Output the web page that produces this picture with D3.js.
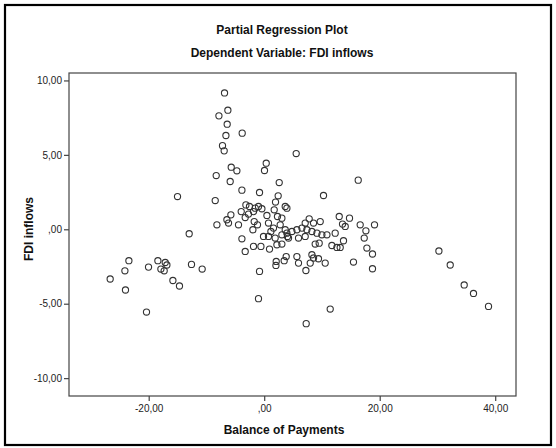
<!DOCTYPE html>
<html>
<head>
<meta charset="utf-8">
<script src="https://cdn.jsdelivr.net/npm/d3@7"></script>
<style>
  html, body { margin: 0; padding: 0; background: #fff; }
  svg { display: block; }
  text { font-family: "Liberation Sans", Arial, sans-serif; }
</style>
</head>
<body>
<script>
// Partial regression plot: residual Balance of Payments vs residual FDI inflows
const balanceOfPayments = [
  -26.67, -24.12, -23.43, -24.02, -20.38, -20.03, -18.41, -17.14, -16.85, -17.89,
  -17.32, -15.81, -14.67, -12.59, -10.74, -15.01, -12.99, -8.48, -8.19,
  -6.87, -6.29, -7.84, -6.41, -6.63, -3.81, -7.22, -6.93, 5.54, -5.71,
  -4.73, -8.31, 0.35, 0.05, -5.89, 2.60, -3.86, -0.81, 2.42, 16.28,
  10.27, 1.96, 3.64,
  -5.77, -6.46, -6.18, -4.45, -3.98, -3.17, -2.55, -3.29, -2.72, -1.85,
  -1.56, -0.99, -0.40, -1.16, -1.96, -1.73, 0.47, 0.74, 1.73, 2.30,
  3.06, 2.77, 1.61, 1.16, -0.12, 0.74, 1.90, 3.06, 4.03, 3.64,
  -3.86, -1.85, -0.57, 0.92, 2.20, 3.06, -3.29, 3.81, 3.46, 2.08,
  3.93, 12.99, 14.77, 13.56, 14.03, 16.62, 17.61, 19.10, 17.32,
  9.70, 8.54, 7.79, 7.10, 6.53, 5.66, 4.80, 3.93, 7.39, 8.26,
  9.13, 9.99, 10.86, 12.29, 7.10, 5.94, 4.21, 8.83, 9.52, 11.72,
  12.59, 13.16, 13.73, 17.78, 18.75, 5.66, 8.26, 9.40, 8.54,
  5.94, 7.97, 10.56, 15.46,
  -0.81, 2.03, 7.22, 18.75, -0.99, 11.43, 7.27,
  30.25, 32.21, 34.63, 36.24, 38.84
];
const fdiInflows = [
  -3.34, -2.79, -2.11, -4.08, -5.56, -2.54, -2.11, -2.23, -2.40, -2.67,
  -2.79, -3.44, -3.81, -2.36, -2.67, 2.20, -0.30, 1.93, 0.30,
  9.16, 8.00, 7.62, 7.06, 6.30, 6.46, 5.62, 5.27, 5.09, 4.17,
  3.93, 3.61, 4.44, 3.95, 3.21, 3.14, 2.63, 2.47, 2.25, 3.30,
  2.27, 1.83, 1.53,
  0.97, 0.64, 0.42, 0.30, 1.19, 1.64, 1.53, 0.79, 1.02, 1.19,
  1.42, 1.53, 1.38, 0.30, -0.03, 0.52, 0.93, 0.42, 1.31, 0.86,
  0.75, 0.30, 0.08, -0.15, -0.48, -0.48, -0.59, -0.37, -0.48, -0.03,
  -0.64, -1.15, -1.15, -1.33, -1.04, -0.99, -1.49, -1.83, -2.11, -2.16,
  1.42, 0.86, 0.75, 0.35, 0.19, 0.30, -0.10, 0.30, -0.59,
  0.52, 0.42, 0.70, 0.42, 0.08, -0.03, -0.15, -0.26, -0.03, -0.15,
  -0.26, -0.37, -0.37, -0.26, -0.48, -0.59, -0.59, -0.99, -0.93, -1.09,
  -1.22, -1.22, -0.77, -1.26, -1.66, -1.83, -1.71, -1.98, -1.93,
  -2.27, -2.27, -2.27, -2.20,
  -2.83, -2.43, -2.77, -2.65, -4.66, -5.36, -6.34,
  -1.46, -2.40, -3.74, -4.31, -5.18
];

const xTicks = [-20, 0, 20, 40];
const xTickLabels = ["-20,00", ",00", "20,00", "40,00"];
const yTicks = [10, 5, 0, -5, -10];
const yTickLabels = ["10,00", "5,00", ",00", "-5,00", "-10,00"];

const chartTitle = "Partial Regression Plot";
const chartSubtitle = "Dependent Variable: FDI inflows";
const xTitle = "Balance of Payments";
const yTitle = "FDI inflows";

const W = 556, H = 448;
const plot = { left: 69, right: 516, top: 73, bottom: 396 };

const svg = d3.select("body").append("svg")
  .attr("width", W).attr("height", H);

// outer border
svg.append("rect")
  .attr("x", 5).attr("y", 5).attr("width", 546).attr("height", 440)
  .attr("fill", "#fff").attr("stroke", "#000").attr("stroke-width", 2.2);

const x = d3.scaleLinear().domain([-33.8, 43.6]).range([plot.left, plot.right]);
const y = d3.scaleLinear().domain([-11.2, 10.5]).range([plot.bottom, plot.top]);

// titles
svg.append("text").attr("x", 282).attr("y", 34)
  .attr("text-anchor", "middle").attr("font-size", 12).attr("font-weight", "bold")
  .attr("fill", "#111").text(chartTitle);
svg.append("text").attr("x", 282).attr("y", 57)
  .attr("text-anchor", "middle").attr("font-size", 12).attr("font-weight", "bold")
  .attr("fill", "#111").text(chartSubtitle);

// axes
const xAxis = svg.append("g")
  .attr("transform", `translate(0,${plot.bottom})`)
  .call(d3.axisBottom(x).tickValues(xTicks)
    .tickFormat((d, i) => xTickLabels[i]).tickSize(5).tickSizeOuter(0).tickPadding(4));
const yAxis = svg.append("g")
  .attr("transform", `translate(${plot.left},0)`)
  .call(d3.axisLeft(y).tickValues(yTicks)
    .tickFormat((d, i) => yTickLabels[i]).tickSize(5).tickSizeOuter(0).tickPadding(2));

[xAxis, yAxis].forEach(g => {
  g.select(".domain").remove();
  g.selectAll(".tick line").attr("stroke", "#444").attr("stroke-width", 1.2);
  g.selectAll(".tick text").attr("font-family", "'Liberation Sans', Arial, sans-serif")
    .attr("font-size", 10).attr("fill", "#222");
});

// plot frame
svg.append("rect")
  .attr("x", plot.left).attr("y", plot.top)
  .attr("width", plot.right - plot.left).attr("height", plot.bottom - plot.top)
  .attr("fill", "none").attr("stroke", "#444").attr("stroke-width", 1.2);

// axis titles
svg.append("text").attr("x", 284).attr("y", 434)
  .attr("text-anchor", "middle").attr("font-size", 12).attr("font-weight", "bold")
  .attr("fill", "#111").text(xTitle);
svg.append("text")
  .attr("transform", `translate(33,229) rotate(-90)`)
  .attr("text-anchor", "middle").attr("font-size", 12).attr("font-weight", "bold")
  .attr("fill", "#111").text(yTitle);

// points
const points = balanceOfPayments.map((v, i) => ({ bop: v, fdi: fdiInflows[i] }));
svg.append("g").selectAll("circle").data(points).join("circle")
  .attr("cx", d => x(d.bop))
  .attr("cy", d => y(d.fdi))
  .attr("r", 3.1)
  .attr("fill", "none")
  .attr("stroke", "#333")
  .attr("stroke-width", 1.1);
</script>
</body>
</html>
